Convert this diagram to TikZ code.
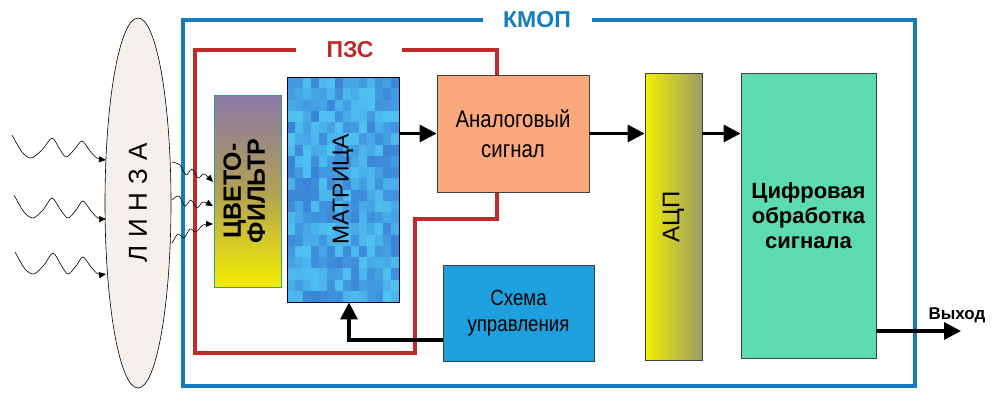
\documentclass[tikz,border=0pt]{standalone}
\usepackage{fontspec}
\setmainfont{Liberation Sans}
\newfontfamily\narrowfont[FakeStretch=0.85]{Liberation Sans}
\usetikzlibrary{shapes.geometric,arrows.meta}
\definecolor{kblue}{RGB}{22,124,192}
\definecolor{pred}{RGB}{192,42,40}
\definecolor{lensfill}{RGB}{246,240,237}
\definecolor{ftop}{RGB}{138,120,168}
\definecolor{fmid}{RGB}{178,160,84}
\definecolor{fbot}{RGB}{245,238,0}
\definecolor{fborder}{RGB}{40,160,140}
\definecolor{mdark}{RGB}{46,96,200}
\definecolor{mlight}{RGB}{80,196,242}
\definecolor{analogc}{RGB}{250,168,124}
\definecolor{adcl}{RGB}{242,240,0}
\definecolor{adcr}{RGB}{156,156,104}
\definecolor{digc}{RGB}{92,219,174}
\definecolor{ctrlc}{RGB}{30,160,222}
\begin{document}
\begin{tikzpicture}[x=1pt,y=-1pt,
  box/.style={draw=black!75, line width=0.8pt, inner sep=0pt},
  arr/.style={line width=3.2pt, -{Triangle[length=17pt,width=17pt]}},
  wave/.style={line width=0.6pt, -{Triangle[length=7pt,width=6pt]}},
  frameline/.style={line width=4pt},
]
\useasboundingbox (0,0) rectangle (1000,400);
% KMOP frame
\draw[frameline, kblue] (483,20) -- (183,20) -- (183,386) -- (915,386) -- (915,20) -- (592,20);
\node[text=kblue, font=\bfseries\fontsize{23}{23}\selectfont] (kmop) at (537,20) {КМОП};
% PZS frame
\draw[frameline, pred] (296,50) -- (195,50) -- (195,353) -- (415,353) -- (415,219) -- (497,219) -- (497,190);
\draw[frameline, pred] (402,50) -- (497,50) -- (497,77);
\node[text=pred, font=\bfseries\fontsize{23}{23}\selectfont] (pzs) at (350,50) {ПЗС};
% lens
\node[ellipse, draw=black, line width=0.6pt, fill=lensfill, minimum width=66pt, minimum height=370pt, inner sep=0pt,
  font=\fontsize{26}{26}\selectfont] (lens) at (138,203)
  {\rotatebox{90}{Л\kern8ptИ\kern8ptН\kern8ptЗ\kern8ptА}};
% filter
\node[draw=fborder, line width=1pt, top color=ftop, bottom color=fbot, middle color=fmid,
  minimum width=67pt, minimum height=192pt, inner sep=0pt,
  font=\bfseries\fontsize{25}{22}\selectfont] (filter) at (247.5,191)
  {\rotatebox{90}{\begin{tabular}{@{}c@{}}ЦВЕТО-\\ФИЛЬТР\end{tabular}}};
% matrix texture
\begin{scope}
\clip (287,77) rectangle (399,302);
\fill[mlight] (287,77) rectangle (399,302);
\pgfmathsetseed{12}
\foreach \i in {0,...,13}{
  \foreach \j in {0,...,19}{
    \pgfmathsetmacro\r{int(35+65*rnd)}
    \fill[mlight!\r!mdark] (287+8*\i,77+11.25*\j) rectangle ++(8,11.25);
  }
}
\end{scope}
\node[draw=black!80!blue, line width=0.8pt, minimum width=112pt, minimum height=225pt, inner sep=0pt,
  font=\fontsize{23}{23}\selectfont] (matrix) at (343,189.5)
  {\rotatebox{90}{МАТРИЦА}};
% analog
\node[box, fill=analogc, minimum width=152pt, minimum height=117pt, align=center,
  font=\narrowfont\fontsize{24}{30}\selectfont] (analog) at (513,133.5)
  {Аналоговый\\сигнал};
% ADC
\node[box, left color=adcl, right color=adcr, minimum width=57pt, minimum height=287pt,
  font=\fontsize{24}{24}\selectfont] (adc) at (673.5,216.5)
  {\rotatebox{90}{АЦП}};
% digital
\node[box, fill=digc, minimum width=135pt, minimum height=285pt, align=center,
  font=\bfseries\fontsize{22}{25}\selectfont] (digital) at (808.5,215.5)
  {Цифровая\\обработка\\сигнала};
% control
\node[box, fill=ctrlc, minimum width=151pt, minimum height=96pt, align=center,
  font=\narrowfont\fontsize{22}{26}\selectfont] (control) at (518.5,313)
  {Схема\\управления};
% output label
\coordinate (out) at (961,331);
\node[font=\bfseries\fontsize{17}{17}\selectfont] (outlabel) at (957,315) {Выход};
% arrows
\draw[arr] (matrix.east |- analog.west) -- (analog.west);
\draw[arr] (analog.east) -- (adc.west |- analog.east);
\draw[arr] (adc.east |- analog.east) -- (digital.west |- analog.east);
\draw[arr] (digital.east |- out) -- (out);
\draw[arr] ([yshift=-27pt]control.west) -| ([xshift=6pt]matrix.south);
% incoming light waves
\draw[wave] plot[smooth] coordinates {(12,135) (22,152) (31,158) (42,150) (52,138) (59,148) (66,157) (74,150) (82,141) (90,151) (97,158) (106,160)};
\draw[wave] plot[smooth] coordinates {(14,195) (24,212) (33,218) (43,210) (52,198) (60,209) (68,218) (76,210) (83,201) (91,211) (98,218) (106,219)};
\draw[wave] plot[smooth] coordinates {(15,252) (25,269) (34,274) (44,265) (53,253) (61,265) (68,274) (76,266) (83,257) (91,267) (98,274) (106,274)};
% waves after lens
\draw[wave] plot[smooth] coordinates {(172,162) (180,165) (186,175) (192,169) (198,178) (204,174) (213,182)};
\draw[wave] plot[smooth] coordinates {(172,200) (179,196) (185,206) (191,200) (197,208) (203,202) (213,206)};
\draw[wave] plot[smooth] coordinates {(172,243) (178,234) (184,238) (190,229) (196,232) (203,225) (213,224)};
\end{tikzpicture}
\end{document}
